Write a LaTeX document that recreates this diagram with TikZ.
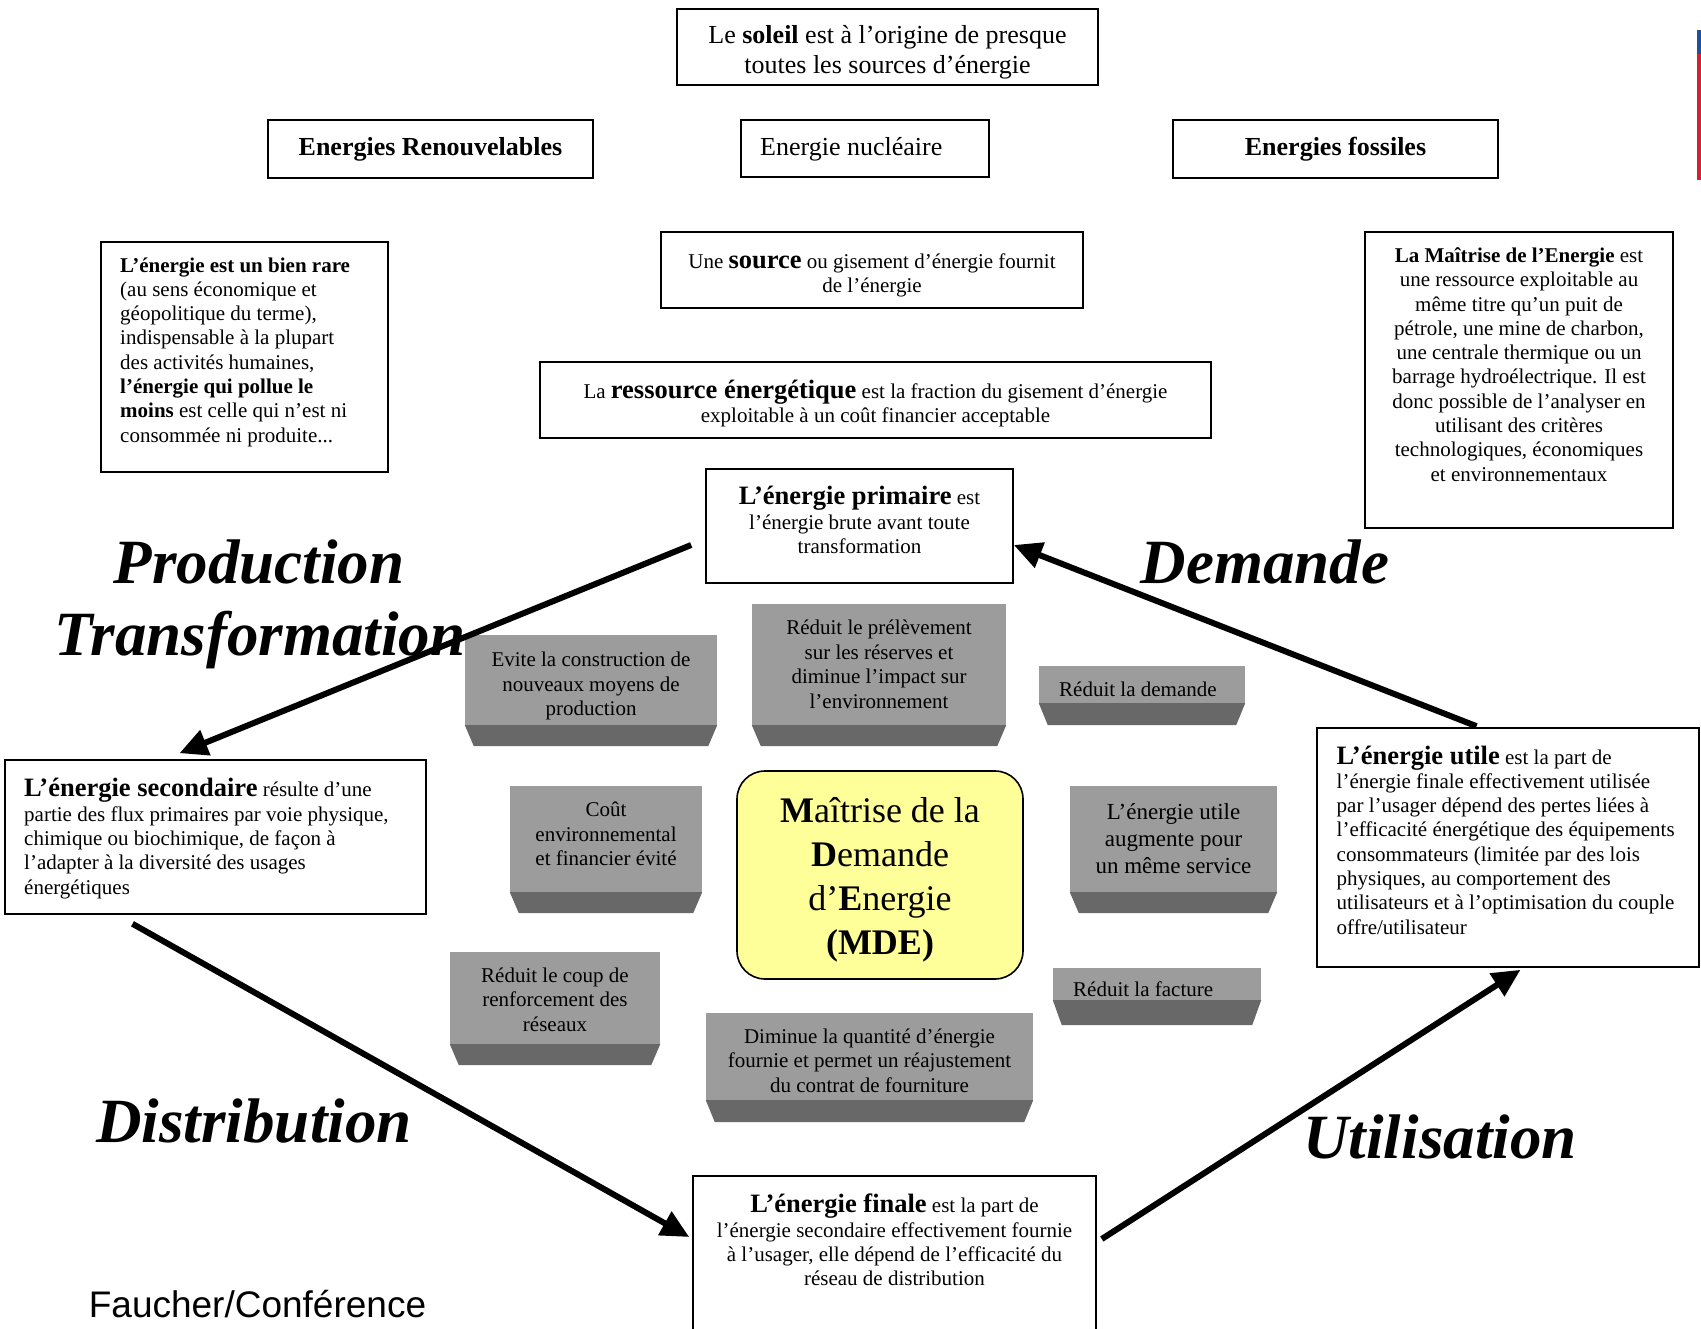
\documentclass[tikz,border=0pt]{standalone}
\usepackage{fontspec}
\setmainfont{Liberation Serif}
\newfontfamily\arialfam{Liberation Sans}
\usetikzlibrary{arrows.meta,calc}
\definecolor{gtop}{HTML}{9C9C9C}
\definecolor{gbot}{HTML}{686868}
\definecolor{mdey}{HTML}{FFFF99}
\definecolor{logoblue}{HTML}{1F4F9F}
\definecolor{logored}{HTML}{D42030}
\newcommand{\myfs}[2]{\fontsize{#1}{#2}\selectfont}
\newcommand{\hd}[1]{{\myfs{26.5}{30}\bfseries #1}}
\newcommand{\trapz}[2]{\fill[gbot] (#1.south west) -- (#1.south east) -- ([xshift=-9pt,yshift=-#2pt]#1.south east) -- ([xshift=9pt,yshift=-#2pt]#1.south west) -- cycle;}
% name, cx, cy, w, h, depth, dy, text style, text
\newcommand{\gblk}[9]{%
 \node[gblock,minimum width=#4pt,minimum height=#5pt] (#1) at (#2,#3) {};
 \trapz{#1}{#6}
 \node[gtxt,#8] (#1t) at ($(#1.center)+(0,#7)$) {#9};}
\begin{document}
\begin{tikzpicture}[x=1pt,y=-1pt,
 frame/.style={draw=black,line width=1.6pt,inner sep=0pt},
 body/.style={inner sep=0pt,font=\myfs{21}{24.3}},
 topf/.style={inner sep=0pt,font=\myfs{26}{30.4}},
 gblock/.style={fill=gtop,inner sep=0pt},
 gtxt/.style={inner sep=0pt,font=\myfs{21}{24.5},align=center},
 bigarr/.style={line width=6pt,-{Triangle[length=28pt,width=26pt]}},
 lab/.style={inner sep=0pt,font=\myfs{63}{70}\bfseries\itshape}]
\useasboundingbox (0,0) rectangle (1701,1329);
\fill[white] (0,0) rectangle (1701,1329);

% top boxes
\node[frame,minimum width=421pt,minimum height=76pt] (sol) at (887.5,47) {};
\node[topf,align=center] (solt) at ($(sol.center)+(0,5.4)$) {Le \textbf{soleil} est à l’origine de presque\\toutes les sources d’énergie};
\node[frame,minimum width=325pt,minimum height=58pt,topf] (ren) at (430.5,149) {\textbf{Energies Renouvelables}};
\node[frame,minimum width=248pt,minimum height=57pt] (nuc) at (865,148.5) {};
\node[topf,anchor=west] (nuct) at (760,149.5) {Energie nucléaire};
\node[frame,minimum width=325pt,minimum height=58pt,topf] (fos) at (1335.5,149) {\textbf{Energies fossiles}};

% left note
\node[frame,minimum width=287pt,minimum height=230pt] (rare) at (244.5,357) {};
\node[body,align=left,anchor=west] (raret) at (120,352) {\textbf{L’énergie est un bien rare}\\(au sens économique et\\géopolitique du terme),\\indispensable à la plupart\\des activités humaines,\\\textbf{l’énergie qui pollue le}\\\textbf{moins} est celle qui n’est ni\\consommée ni produite...};

% centre definitions
\node[frame,minimum width=422pt,minimum height=76pt] (src) at (872,270) {};
\node[body,align=center] (srct) at ($(src.center)+(0,5.4)$) {Une \hd{source} ou gisement d’énergie fournit\\de l’énergie};
\node[frame,minimum width=671pt,minimum height=76pt] (res) at (875.5,400) {};
\node[body,align=center] (rest) at ($(res.center)+(0,3.3)$) {La \hd{ressource énergétique} est la fraction du gisement d’énergie\\exploitable à un coût financier acceptable};
\node[frame,minimum width=307pt,minimum height=114pt] (prim) at (859.5,526) {};
\node[body,align=center] (primt) at (859.5,520) {\hd{L’énergie primaire} est\\l’énergie brute avant toute\\transformation};

% right note
\node[frame,minimum width=308pt,minimum height=296pt] (mai) at (1519,380) {};
\node[body,align=center] (mait) at (1519,364.5) {\textbf{La Maîtrise de l’Energie} est\\une ressource exploitable au\\même titre qu’un puit de\\pétrole, une mine de charbon,\\une centrale thermique ou un\\barrage hydroélectrique. Il est\\donc possible de l’analyser en\\utilisant des critères\\technologiques, économiques\\et environnementaux};

% secondary, useful, final
\node[frame,minimum width=421pt,minimum height=154pt] (sec) at (215.5,837) {};
\node[body,align=left,anchor=west] (sect) at (24,838.5) {\hd{L’énergie secondaire} résulte d’une\\partie des flux primaires par voie physique,\\chimique ou biochimique, de façon à\\l’adapter à la diversité des usages\\énergétiques};
\node[frame,minimum width=382pt,minimum height=239pt] (uti) at (1508,847.5) {};
\node[body,align=left,anchor=west] (utit) at (1336.5,840) {\hd{L’énergie utile} est la part de\\l’énergie finale effectivement utilisée\\par l’usager dépend des pertes liées à\\l’efficacité énergétique des équipements\\consommateurs (limitée par des lois\\physiques, au comportement des\\utilisateurs et à l’optimisation du couple\\offre/utilisateur};
\node[frame,minimum width=403pt,minimum height=164pt] (fin) at (894.5,1258) {};
\node[body,align=center] (fint) at (894.5,1240) {\hd{L’énergie finale} est la part de\\l’énergie secondaire effectivement fournie\\à l’usager, elle dépend de l’efficacité du\\réseau de distribution};

% MDE
\node[draw,line width=1.6pt,fill=mdey,rounded corners=28pt,minimum width=286pt,minimum height=208pt,inner sep=0pt] (mde) at (880,875) {};
\node[inner sep=0pt,align=center,font=\myfs{36}{44}] (mdet) at ($(mde.center)+(0,4.9)$) {\textbf{M}aîtrise de la\\\textbf{D}emande\\d’\textbf{E}nergie\\\textbf{(MDE)}};

% gray blocks
\gblk{ga}{591}{680}{252}{90}{21}{6}{}{Evite la construction de\\nouveaux moyens de\\production}
\gblk{gb}{879}{664.5}{254}{121}{21}{0}{}{Réduit le prélèvement\\sur les réserves et\\diminue l’impact sur\\l’environnement}
\gblk{gc}{1142}{684.5}{206}{37}{22}{4.3}{anchor=west,xshift=-83pt}{Réduit la demande}
\gblk{gd}{606}{839}{192}{106}{21}{-5}{}{Coût\\environnemental\\et financier évité}
\gblk{ge}{1173.5}{839}{207}{106}{21}{0}{font=\myfs{23}{27}}{L’énergie utile\\augmente pour\\un même service}
\gblk{gf}{555}{998}{210}{92}{21}{1.5}{}{Réduit le coup de\\renforcement des\\réseaux}
\gblk{gg}{1157}{984}{208}{32}{25}{5.4}{anchor=west,xshift=-84pt}{Réduit la facture}
\gblk{gh}{869.5}{1056.5}{327}{87}{22}{4}{}{Diminue la quantité d’énergie\\fournie et permet un réajustement\\du contrat de fourniture}

% cycle arrows
\draw[bigarr] ($(prim.west)+(-14,19)$) -- ($(sec.north)+(-36,-6)$);
\draw[bigarr] ($(sec.south)+(-83,9)$) -- ($(fin.west)+(-3,-21)$);
\draw[bigarr] ($(fin.east)+(5,-19)$) -- ($(uti.south)+(12.5,2)$);
\draw[bigarr] ($(uti.north)+(-31.5,-1)$) -- ($(prim.east)+(0,19)$);

% phase labels
\node[lab] (lprod) at (259,562) {Production};
\node[lab] (ltra) at (260,640) {Transformation};
\node[lab] (ldem) at (1265,562) {Demande};
\node[lab] (ldis) at (254,1121) {Distribution};
\node[lab] (lutil) at (1440,1137) {Utilisation};
\node[inner sep=0pt,font=\arialfam\myfs{37}{40}] (fau) at (257.5,1304) {Faucher/Conférence};

% logo edge
\fill[logoblue] (1697,30) rectangle (1701,54);
\fill[logored] (1697,54) rectangle (1701,180);
\end{tikzpicture}
\end{document}
